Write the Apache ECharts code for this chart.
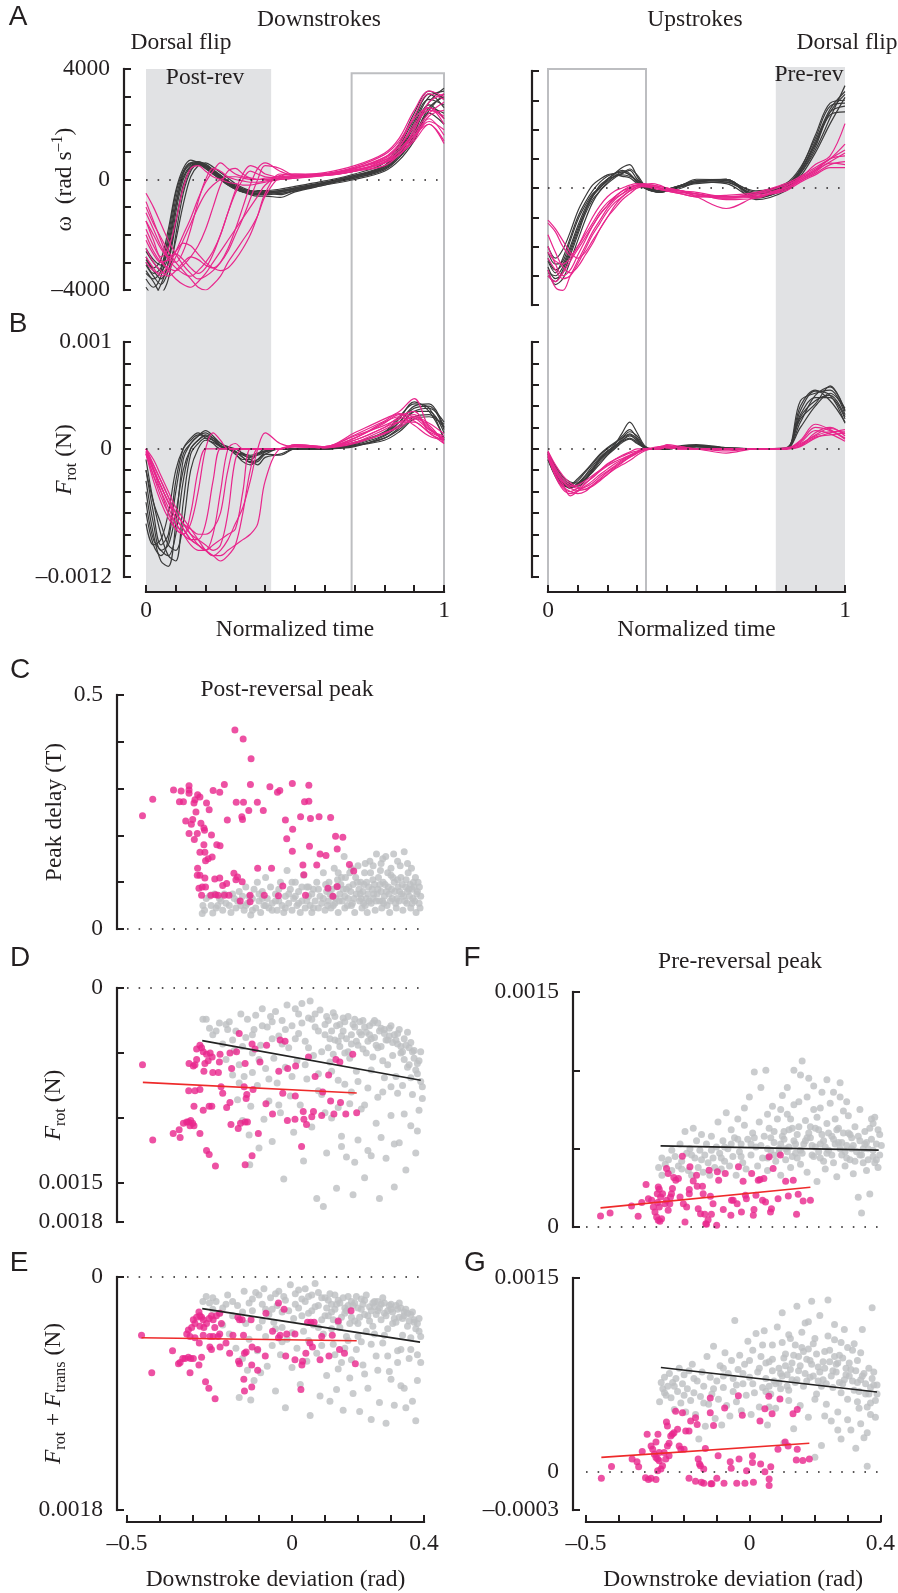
<!DOCTYPE html>
<html><head><meta charset="utf-8">
<script src="https://cdn.jsdelivr.net/npm/echarts@6/dist/echarts.min.js"></script>
<style>html,body{margin:0;padding:0;background:#fff}#c{width:898px;height:1593px}</style>
</head><body><div id="c"></div>
<script>
// ---------------- DATA ----------------
// normalized time samples of the stroke traces
const timeGrid = [0,0.025,0.05,0.075,0.1,0.125,0.15,0.175,0.2,0.225,0.25,0.275,0.3,0.325,0.35,0.375,0.4,0.45,0.5,0.6,0.7,0.8,0.85,0.9,0.95,1];

// A: angular velocity omega (rad/s), downstrokes
const omegaDownBlack = [
[-3000,-3400,-3200,-2000,-500,300,600,550,400,200,0,-200,-350,-450,-500,-500,-450,-400,-300,-100,150,450,1100,2000,3000,3200],
[-3600,-3900,-3500,-2400,-900,100,500,600,450,250,50,-150,-300,-400,-450,-500,-500,-450,-350,-150,100,400,900,1800,2800,3300],
[-2600,-3000,-3300,-2800,-1500,-300,400,650,550,350,150,-50,-250,-400,-500,-550,-550,-500,-400,-150,50,350,800,1600,2600,3000],
[-3300,-3700,-4100,-3600,-2000,-500,300,550,500,300,100,-100,-300,-450,-550,-600,-600,-650,-450,-200,100,500,1200,2200,3100,2600],
[-2800,-3200,-2900,-1800,-400,400,700,600,400,200,0,-200,-350,-450,-450,-400,-400,-350,-250,-50,200,600,1300,2400,3200,2900],
[-3900,-4200,-3800,-3000,-1200,0,450,550,450,250,50,-150,-300,-400,-500,-550,-500,-450,-350,-100,150,500,1000,1900,2700,2200],
[-3100,-3500,-3800,-3300,-2200,-900,100,500,600,450,250,50,-150,-300,-400,-450,-450,-400,-300,-100,100,400,800,1500,2500,3100],
[-2500,-2900,-3100,-2500,-1000,200,550,600,500,300,100,-100,-250,-350,-400,-450,-450,-500,-400,-200,0,300,700,1400,2400,2000],
[-3400,-3600,-3300,-2200,-700,250,600,650,500,300,100,-100,-300,-450,-500,-550,-500,-450,-350,-150,100,450,1000,2100,2900,2700],
[-2900,-3300,-3600,-3000,-1600,-200,400,600,550,350,150,-50,-200,-350,-450,-500,-500,-550,-400,-150,50,400,900,1700,2600,2400]];
const omegaDownPink = [
[-1500,-2200,-2800,-2500,-1500,-300,400,500,300,100,0,-100,-150,-200,-200,-150,-100,0,50,150,300,700,1100,1700,2400,2800],
[-800,-1500,-2200,-2800,-3000,-2600,-1800,-800,0,400,300,100,0,-50,-100,-100,-50,0,50,150,400,800,1200,2000,2600,2200],
[-2000,-2600,-3000,-3200,-3300,-3100,-2800,-2400,-1800,-1000,-200,300,400,200,50,0,0,50,100,200,400,700,1000,1600,2200,1600],
[-1200,-1800,-2400,-2900,-3200,-3400,-3500,-3300,-3000,-2600,-2000,-1200,-400,200,500,400,200,100,100,200,350,600,900,1400,2000,1300],
[-2500,-3000,-3300,-3500,-3300,-3000,-2800,-2900,-3100,-3200,-3000,-2600,-2000,-1400,-700,0,500,400,150,200,300,650,1000,1800,2800,3100],
[-500,-1000,-1600,-2200,-2700,-3100,-3400,-3600,-3500,-3300,-3000,-2500,-1800,-1000,-200,400,600,300,150,200,400,800,1300,2200,2600,2000],
[-1800,-2400,-2900,-3300,-3600,-3800,-3900,-3700,-3400,-3000,-2600,-2200,-1800,-1400,-1000,-600,-200,150,200,200,350,600,900,1500,2300,2500],
[-3000,-3300,-3400,-3100,-2600,-2000,-1400,-700,-100,300,600,400,200,100,50,0,0,50,100,200,450,900,1400,2300,3100,2900],
[-1000,-1600,-2100,-2600,-3000,-3300,-3600,-3900,-4000,-3800,-3500,-3000,-2600,-2200,-1800,-1300,-600,100,200,150,300,500,900,1500,2100,1800],
[-2200,-2700,-3000,-2900,-2700,-2900,-3200,-3400,-3200,-2700,-2000,-1200,-500,0,300,200,100,50,100,200,400,750,1200,1900,2500,2300],
[-1500,-2000,-2500,-2800,-2600,-2300,-2400,-2700,-3000,-3200,-3300,-3200,-2900,-2500,-2000,-1300,-500,200,150,150,300,600,1000,1600,2000,1400],
[-2800,-3200,-3500,-3300,-2800,-2200,-1600,-1000,-500,-200,0,100,100,50,0,0,50,100,150,250,500,950,1500,2500,3200,3000]];

// A: omega (rad/s), upstrokes
const omegaUpBlack = [
[-2500,-2900,-2400,-1700,-1000,-500,-100,200,400,500,600,500,200,0,-100,-100,-50,100,250,200,-200,100,600,1500,2600,3200],
[-3000,-3200,-2800,-2200,-1500,-800,-300,100,300,500,700,800,400,50,-100,-150,-100,50,200,300,-300,0,500,1300,2400,3500],
[-2200,-2600,-2500,-1800,-1100,-600,-200,0,300,400,450,400,250,0,-50,-100,-50,100,300,250,-100,150,700,1700,2800,2900],
[-2700,-3100,-2900,-2300,-1600,-900,-400,-100,200,400,500,600,300,100,0,-100,-100,0,200,300,-400,-100,400,1200,2200,3100],
[-2000,-2400,-2100,-1500,-800,-300,100,300,450,500,550,450,200,0,-100,-150,-100,50,150,200,-200,50,600,1600,2700,3300],
[-2800,-3300,-3100,-2500,-1800,-1100,-500,-100,150,350,500,650,450,100,-50,-150,-100,100,250,300,-300,-50,500,1400,2500,2600],
[-2400,-2800,-2600,-2000,-1300,-700,-250,50,300,450,400,350,150,0,-100,-100,-50,50,200,250,-150,100,650,1800,2900,3000],
[-2900,-3000,-2700,-2100,-1400,-800,-300,0,250,400,550,450,250,50,-50,-100,-50,100,200,150,-350,0,550,1500,2600,2800]];
const omegaUpPink = [
[-1200,-1500,-2000,-2300,-2000,-1500,-1000,-600,-300,-100,0,100,150,100,0,-50,-100,-200,-300,-300,-300,0,300,600,900,1200],
[-2000,-2600,-3000,-2800,-2300,-1800,-1300,-900,-600,-300,-100,50,100,50,0,-50,-100,-150,-250,-350,-200,100,350,650,1000,1500],
[-2800,-3400,-3500,-3000,-2500,-2000,-1500,-1100,-700,-400,-200,0,100,100,50,0,-50,-100,-200,-300,-250,0,250,500,800,900],
[-1600,-2200,-2700,-2900,-2700,-2300,-1900,-1400,-1000,-700,-400,-200,0,100,150,100,0,-100,-300,-700,-300,-100,200,450,700,700],
[-2400,-2800,-3100,-3000,-2600,-2100,-1600,-1200,-800,-500,-300,-100,0,50,50,0,-50,-150,-200,-400,-350,50,350,800,1100,2200],
[-1100,-1400,-1800,-2200,-2400,-2200,-1800,-1400,-1000,-600,-300,-100,50,100,50,0,-100,-200,-300,-250,-150,150,400,700,1000,1300],
[-3000,-3200,-2900,-2500,-2100,-1700,-1300,-900,-600,-350,-200,-50,50,100,100,50,0,-100,-150,-300,-200,0,300,600,1000,1100],
[-2200,-2500,-2600,-2400,-2000,-1600,-1200,-800,-500,-300,-100,0,100,150,100,50,0,-100,-200,-350,-300,-50,250,550,850,800]];

// B: rotational force F_rot in units of 1e-4 N, downstrokes
const frotDownBlack = [
[-2,-6,-9,-8,-3,0,1,1.5,1,0.5,0,0,-0.5,-1,-1,-0.5,0,0,0,0,0.3,1,2,3.5,3.5,1.5],
[-4,-8,-10.5,-11,-7,-1,0.5,1.2,1.5,1,0.3,0,-0.3,-0.8,-1.2,-1,-0.3,0,0,0,0.5,1.5,2.5,4,4.2,2],
[-1,-5,-8,-10,-10.5,-5,-0.5,0.5,1,0.8,0.3,0,0,-0.5,-1,-1.5,-0.8,-0.5,0,0,0.2,1.2,2.2,3.5,3.8,2.5],
[-6,-9,-10,-8.5,-4,-0.5,0.5,1.2,1.7,1.2,0.5,0.1,-0.3,-0.6,-0.8,-0.5,-0.2,0,0,0,0.5,1.5,2.8,4.4,3.5,1],
[-3,-7,-9.5,-9,-6,-2,0,0.8,1.2,0.8,0.2,0,-0.5,-1.2,-1.5,-1,-0.5,-0.6,0,0,0.3,1,1.8,3,3.2,2],
[-5,-8.5,-9.5,-10,-8,-3,0,0.8,1.3,1,0.5,0.2,0,-0.4,-0.7,-0.6,-0.3,0,0,0,0.4,1.3,2.5,3.8,4,1.8],
[-2,-5,-7,-9,-9.5,-7,-2,0,0.8,0.6,0.2,0,-0.2,-0.8,-1.3,-1.2,-0.5,0,0,0,0.3,0.8,1.6,2.8,3,2.3],
[-7,-9,-8.5,-6,-2,0,0.8,1.3,1.2,0.8,0.3,0,-0.3,-0.5,-0.6,-0.4,-0.2,0,0,0,0.6,1.6,3,4.2,3.8,0.8]];
const frotDownPink = [
[0,-2,-4,-6,-7.5,-8,-6,-2,0,0,0,0,0,0,0,0,0,0,0.3,0.2,0.8,2,2.5,2.5,1.5,0.5],
[-0.5,-2.5,-4.5,-6,-7,-8,-8.5,-8.5,-7,-3,0,0,0,0,0,0,0,0,0.2,0.1,1,2.5,3,2.2,1.2,0.8],
[0,-1.5,-3,-4.5,-6,-7,-8,-8.5,-9,-9.5,-9,-6,-1,0,0,0,0,0,0.4,0.2,1.5,2.8,3.5,4.7,2,1],
[-0.3,-2,-3.5,-5,-6.5,-7.5,-8.5,-9,-9.5,-10,-10.5,-10,-9,-6,-2,0,0,0,0.3,0.2,0.6,1.8,2.5,3,2,0.7],
[0,-1,-2.5,-4,-5.5,-6.5,-7.5,-8.5,-9.5,-10,-9.5,-8.5,-7,-5.5,-3,0,1.5,0.5,0.2,0.2,1.2,2.2,2.8,3.2,1.8,1.2],
[-0.5,-3,-5,-6.5,-7.5,-8,-7,-4,0,1.5,0.8,0,0,0,0,0,0,0,0.3,0.1,0.5,1.5,2,2.8,2.2,0.5],
[0,-1.5,-3,-4.5,-6,-7,-8,-9,-9.5,-10,-10,-9.5,-9,-8.5,-8,-7,-3,0,0.2,0.1,0.8,2,3,3.5,1.5,0.8],
[-0.2,-2,-3.5,-5,-6,-7,-7.5,-8,-8,-7.5,-6,-2,0,0,0,0,0,0,0.4,0.2,1,2.4,3.2,2.6,1.6,1],
[0,-1.8,-3.5,-5,-6.5,-7.5,-8.5,-9,-9.5,-9,-8.5,-8,-7.5,-4,0,0,0,0,0.2,0.1,0.6,1.4,2.2,3,2.4,1.4],
[-0.4,-2.5,-4,-5.5,-7,-8,-9,-9.5,-9.5,-8,-4,0,0.5,0,0,0,0,0,0.3,0.2,1.3,2.6,3.3,2.9,1.8,0.9]];

// B: F_rot (1e-4 N), upstrokes
const frotUpBlack = [
[-0.5,-2,-3,-3.4,-3,-2.2,-1.4,-0.6,0,0.5,1.2,1.8,1,0.2,0,0,0,0.2,0.3,0,0,0,3,4.5,5,3],
[-1,-2.5,-3.4,-3.6,-3.2,-2.5,-1.6,-0.8,-0.2,0.3,0.8,1.2,0.8,0.1,0,0,0,0.1,0.2,0.1,0,0,2.5,5,5.8,3.5],
[-0.3,-1.8,-2.8,-3.3,-3.5,-3,-2,-1,-0.3,0.4,1.5,2.5,1.5,0.3,0,0,0,0.2,0.3,0.1,0,0,4,5.5,4.5,2.5],
[-0.8,-2.2,-3.2,-3.7,-3.3,-2.6,-1.8,-0.9,-0.2,0.2,0.7,1,0.6,0.1,0,0,0,0.1,0.2,0,0,0,2,4,5.2,3.8],
[-0.5,-2,-3,-3.5,-3.4,-2.8,-1.9,-1,-0.4,0.2,1,1.6,1.2,0.2,0,0,0,0.3,0.4,0.1,0,0,3.2,4.8,4.8,2.8],
[-1,-2.6,-3.5,-3.4,-2.8,-2.1,-1.3,-0.5,0.1,0.6,1,1.4,0.9,0.2,0,0,0,0.1,0.2,0,0,0,4.5,5.2,5.5,3.2],
[-0.4,-1.6,-2.6,-3.1,-3.2,-2.8,-2.2,-1.4,-0.6,0,0.6,0.9,0.5,0.1,0,0,0,0.2,0.3,0.1,0,0.1,2.8,4.2,5.9,3.6],
[-0.7,-2.3,-3.3,-3.6,-3.4,-2.9,-2.1,-1.2,-0.5,0.1,0.8,1.3,0.7,0.1,0,0,0,0.1,0.2,0,0,0,3.6,5.4,5,2.4]];
const frotUpPink = [
[-0.3,-2,-3,-3.5,-3.4,-3,-2.5,-2,-1.5,-1,-0.6,-0.3,0,0,0,0.2,0.3,0,0,0,0,0,0.3,1.5,2,1.2],
[-0.8,-2.5,-3.5,-4,-4.2,-4,-3.4,-2.8,-2.2,-1.7,-1.2,-0.8,-0.4,-0.1,0,0.1,0.2,0.1,0,-0.4,0,0,0.5,1.2,1.6,1.6],
[-0.5,-2.2,-3.3,-4.4,-4,-3.5,-3,-2.4,-1.9,-1.4,-1,-0.6,-0.3,0,0,0,0.4,0.2,0,0,0,0,0.8,2.3,1.8,0.9],
[-0.2,-1.5,-2.5,-3.2,-3.6,-3.8,-3.5,-3,-2.4,-1.8,-1.3,-0.8,-0.4,-0.1,0,0,0.1,0,0,0,0,0.1,0.4,1.3,1.9,1.4],
[-0.6,-2.4,-3.6,-4,-3.7,-3.2,-2.7,-2.1,-1.6,-1.2,-0.9,-0.6,-0.3,0,0,0.1,0.2,0.1,0,-0.2,0,0,0.6,1.7,1.4,0.7],
[-0.4,-1.8,-2.8,-3.4,-3.7,-3.6,-3.2,-2.6,-2.1,-1.6,-1.1,-0.7,-0.3,0,0,0,0.1,0,0,0,0,0,0.2,1,1.5,1.8],
[-0.7,-2.6,-3.8,-4.2,-3.9,-3.3,-2.6,-2,-1.4,-1,-0.7,-0.4,-0.2,0,0.1,0.2,0.3,0.1,0,0,0,0,0.7,2,1.7,1],
[-0.3,-2,-3.1,-3.7,-3.9,-3.8,-3.4,-2.9,-2.4,-1.9,-1.5,-1.1,-0.6,-0.2,0,0,0.1,0,0,0,0,0,0.3,1.1,1.3,1.5]];

// shaded / boxed time windows (normalized time)
const postRevWindow = [0, 0.42];
const downBoxWindow = [0.69, 1];
const preRevWindow = [0.767, 1];
const upBoxWindow = [0, 0.33];

// C: peak delay (T) vs downstroke deviation (rad)
const delayGrey = [[-0.272,0.033],[-0.27,0.05],[-0.26,0.065],[-0.245,0.05],[-0.24,0.034],[-0.235,0.075],[-0.225,0.05],[-0.215,0.06],[-0.21,0.04],[-0.205,0.075],[-0.19,0.05],[-0.185,0.035],[-0.175,0.065],[-0.17,0.045],[-0.16,0.08],[-0.155,0.05],[-0.15,0.07],[-0.145,0.04],[-0.14,0.09],[-0.135,0.055],[-0.125,0.03],[-0.12,0.065],[-0.115,0.085],[-0.11,0.045],[-0.105,0.1],[-0.1,0.06],[-0.095,0.035],[-0.09,0.08],[-0.085,0.05],[-0.08,0.11],[-0.075,0.065],[-0.07,0.045],[-0.065,0.09],[-0.06,0.055],[-0.05,0.075],[-0.045,0.04],[-0.04,0.06],[-0.035,0.1],[-0.03,0.05],[-0.025,0.035],[-0.02,0.07],[-0.015,0.125],[-0.01,0.055],[-0.005,0.085],[0,0.04],[0.005,0.065],[0.01,0.1],[0.015,0.05],[0.02,0.08],[0.025,0.035],[0.03,0.06],[0.035,0.115],[0.04,0.045],[0.045,0.09],[0.05,0.07],[0.055,0.05],[0.06,0.035],[0.065,0.085],[0.07,0.06],[0.075,0.1],[0.08,0.045],[0.085,0.07],[0.09,0.055],[0.095,0.12],[0.1,0.04],[0.105,0.08],[0.11,0.06],[0.112,0.1],[0.118,0.045],[0.122,0.07],[0.128,0.13],[0.13,0.055],[0.135,0.09],[0.14,0.035],[0.145,0.075],[0.15,0.11],[0.152,0.06],[0.158,0.155],[0.16,0.045],[0.165,0.085],[0.17,0.065],[0.175,0.12],[0.18,0.05],[0.185,0.095],[0.19,0.035],[0.195,0.075],[0.2,0.135],[0.205,0.06],[0.208,0.1],[0.212,0.045],[0.215,0.08],[0.22,0.12],[0.225,0.065],[0.228,0.035],[0.232,0.09],[0.236,0.145],[0.24,0.055],[0.245,0.105],[0.248,0.075],[0.252,0.04],[0.256,0.16],[0.26,0.085],[0.265,0.06],[0.268,0.125],[0.272,0.045],[0.276,0.1],[0.28,0.07],[0.284,0.155],[0.288,0.05],[0.292,0.09],[0.296,0.035],[0.3,0.115],[0.304,0.065],[0.308,0.16],[0.312,0.08],[0.316,0.045],[0.32,0.105],[0.324,0.06],[0.328,0.135],[0.332,0.075],[0.336,0.04],[0.34,0.165],[0.344,0.09],[0.348,0.055],[0.352,0.12],[0.356,0.07],[0.36,0.045],[0.364,0.085],[0.368,0.1],[0.372,0.06],[0.376,0.035],[0.38,0.08],[0.385,0.055],[0.39,0.07],[0.102,0.095],[0.115,0.075],[0.125,0.05],[0.138,0.105],[0.143,0.06],[0.155,0.085],[0.162,0.11],[0.168,0.05],[0.178,0.08],[0.188,0.065],[0.198,0.1],[0.203,0.085],[0.21,0.065],[0.218,0.095],[0.222,0.05],[0.23,0.075],[0.238,0.12],[0.243,0.085],[0.25,0.095],[0.255,0.06],[0.262,0.11],[0.27,0.08],[0.274,0.06],[0.282,0.095],[0.29,0.12],[0.294,0.075],[0.302,0.085],[0.31,0.1],[0.318,0.065],[0.322,0.09],[0.33,0.11],[0.338,0.07],[0.346,0.105],[0.35,0.08],[0.358,0.095],[0.362,0.13],[0.366,0.065],[0.374,0.11],[0.378,0.075],[0.386,0.09],[0.05,0.09],[0.06,0.075],[0.02,0.055],[-0.01,0.075],[-0.05,0.06],[-0.09,0.065],[-0.13,0.07],[-0.18,0.075],[-0.22,0.065],[0,0.1],
[-0.265,0.04],[-0.25,0.07],[-0.23,0.045],[-0.2,0.055],[-0.165,0.06],[-0.14,0.05],[-0.12,0.04],[-0.1,0.075],[-0.08,0.05],[-0.06,0.04],[-0.04,0.085],[-0.02,0.045],[0.01,0.07],[0.03,0.09],[0.045,0.06],[0.065,0.045],[0.08,0.085],[0.095,0.065],[0.108,0.05],[0.12,0.085],[0.133,0.065],[0.148,0.095],[0.16,0.07],[0.172,0.09],[0.183,0.055],[0.193,0.11],[0.207,0.075],[0.217,0.055],[0.226,0.1],[0.234,0.06],[0.246,0.065],[0.258,0.075],[0.266,0.095],[0.278,0.055],[0.286,0.08],[0.298,0.06],[0.306,0.11],[0.314,0.055],[0.326,0.08],[0.334,0.095],[0.342,0.06],[0.354,0.085],[0.364,0.055],[0.37,0.09],[0.382,0.1],[0.388,0.045],[0.246,0.135],[0.27,0.14],[0.3,0.13],[0.32,0.145],[0.35,0.14],[0.222,0.14],[0.18,0.13],[0.14,0.12],[0.275,0.15]];
const delayPink = [[-0.453,0.242],[-0.422,0.277],[-0.359,0.297],[-0.336,0.295],[-0.341,0.272],[-0.329,0.272],[-0.312,0.306],[-0.312,0.297],[-0.312,0.29],[-0.322,0.231],[-0.305,0.224],[-0.312,0.204],[-0.287,0.204],[-0.297,0.269],[-0.294,0.276],[-0.286,0.287],[-0.279,0.282],[-0.291,0.25],[-0.301,0.234],[-0.296,0.191],[-0.276,0.226],[-0.267,0.216],[-0.265,0.211],[-0.259,0.269],[-0.251,0.255],[-0.244,0.201],[-0.267,0.18],[-0.264,0.164],[-0.279,0.164],[-0.262,0.146],[-0.254,0.15],[-0.242,0.154],[-0.286,0.13],[-0.287,0.115],[-0.279,0.115],[-0.282,0.087],[-0.272,0.09],[-0.262,0.09],[-0.274,0.072],[-0.264,0.109],[-0.234,0.107],[-0.219,0.109],[-0.246,0.072],[-0.232,0.073],[-0.224,0.072],[-0.239,0.296],[-0.219,0.292],[-0.205,0.309],[-0.228,0.18],[-0.218,0.178],[-0.205,0.072],[-0.191,0.072],[-0.21,0.093],[-0.198,0.097],[-0.196,0.233],[-0.17,0.105],[-0.176,0.119],[-0.165,0.111],[-0.151,0.101],[-0.173,0.425],[-0.148,0.406],[-0.124,0.364],[-0.169,0.271],[-0.147,0.271],[-0.152,0.24],[-0.15,0.234],[-0.131,0.253],[-0.126,0.309],[-0.105,0.271],[-0.087,0.253],[-0.067,0.304],[-0.044,0.292],[-0.037,0.296],[-0.02,0.233],[-0.016,0.193],[0.001,0.311],[0.002,0.213],[0.001,0.166],[0.026,0.24],[0.051,0.307],[0.038,0.272],[0.051,0.273],[0.056,0.236],[0.053,0.177],[0.082,0.24],[0.117,0.238],[0.085,0.16],[0.103,0.157],[0.132,0.198],[0.154,0.196],[0.137,0.171],[0.174,0.138],[0.187,0.124],[0.033,0.137],[0.075,0.137],[0.036,0.116],[-0.104,0.13],[-0.062,0.13],[-0.028,0.092],[0.041,0.072],[0.109,0.087],[0.137,0.091],[0.124,0.07],[-0.127,0.072],[-0.127,0.058],[-0.084,0.072],[-0.041,0.071],[-0.157,0.06]];

// D: post-reversal F_rot peak (1e-4 N, axis inverted)
const frotPostGrey = [[-0.27,2.4],[-0.26,2.4],[-0.25,3.1],[-0.24,3.6],[-0.22,2.7],[-0.21,4.3],[-0.2,5.5],[-0.195,3.2],[-0.19,2.6],[-0.18,6.7],[-0.175,4.8],[-0.17,3.3],[-0.165,8.6],[-0.16,5.9],[-0.155,2.0],[-0.15,10.2],[-0.145,6.8],[-0.14,3.8],[-0.135,2.4],[-0.13,11.3],[-0.128,13.6],[-0.125,9.1],[-0.12,5.0],[-0.115,3.2],[-0.11,2.1],[-0.105,7.5],[-0.1,12.3],[-0.095,4.4],[-0.09,1.6],[-0.085,10.1],[-0.08,6.2],[-0.075,3.0],[-0.07,8.7],[-0.065,2.2],[-0.06,11.8],[-0.055,5.4],[-0.05,1.8],[-0.045,7.3],[-0.04,3.7],[-0.035,9.6],[-0.03,2.5],[-0.025,14.7],[-0.02,6.1],[-0.015,1.3],[-0.01,4.6],[-0.005,8.3],[0,2.9],[0.005,11.1],[0.01,1.6],[0.015,5.6],[0.02,3.5],[0.025,9.0],[0.03,1.2],[0.035,13.3],[0.04,4.1],[0.045,7.0],[0.05,2.3],[0.055,1.0],[0.06,10.7],[0.065,5.2],[0.07,3.0],[0.075,16.2],[0.08,6.6],[0.085,1.7],[0.09,8.2],[0.095,16.8],[0.1,3.6],[0.105,12.7],[0.11,2.5],[0.115,5.7],[0.12,10.0],[0.125,1.9],[0.13,4.0],[0.135,15.4],[0.14,7.1],[0.145,2.8],[0.15,11.4],[0.155,3.3],[0.16,5.0],[0.165,13.0],[0.17,2.2],[0.175,8.9],[0.18,4.3],[0.185,15.9],[0.19,3.0],[0.195,6.4],[0.2,11.7],[0.205,2.6],[0.21,9.3],[0.215,4.7],[0.22,14.6],[0.225,3.4],[0.23,7.7],[0.235,2.9],[0.24,12.9],[0.245,5.3],[0.25,3.8],[0.255,10.4],[0.26,2.7],[0.265,16.2],[0.27,4.5],[0.275,8.0],[0.28,3.2],[0.285,13.1],[0.29,5.9],[0.295,3.7],[0.3,9.8],[0.305,4.2],[0.31,15.3],[0.315,6.8],[0.32,3.5],[0.325,11.9],[0.33,5.0],[0.335,7.5],[0.34,3.9],[0.345,14.0],[0.35,6.1],[0.355,4.6],[0.36,10.6],[0.365,8.2],[0.37,5.4],[0.375,12.7],[0.38,6.6],[0.385,9.4],[0.39,7.2],[0.395,8.5],[0.1,2.8],[0.12,3.3],[0.14,4.1],[0.16,2.6],[0.18,3.6],[0.2,4.4],[0.22,3.0],[0.24,3.9],[0.26,4.6],[0.28,3.5],[0.3,2.9],[0.32,4.3],[0.34,5.5],[0.36,4.2],[0.38,5.8],[0.11,4.6],[0.13,2.2],[0.15,3.7],[0.17,4.9],[0.19,2.4],[0.21,3.6],[0.23,4.1],[0.25,2.5],[0.27,3.1],[0.29,4.0],[0.31,3.6],[0.33,4.5],[0.35,3.4],[0.37,4.8],[0.06,2.4],[0.08,3.3],[0.02,2.0],[-0.02,3.2],[-0.06,3.9],[0.04,5.9],[0,6.8],[-0.1,5.5],[0.24,6.3],[0.28,6.9],[0.2,7.2],[0.32,8.1],[0.36,6.9],[0.12,6.4],[0.16,7.4],[0.08,7.9],[-0.04,9.0],
[-0.23,3.3],[-0.2,2.8],[-0.18,4.0],[-0.15,4.5],[-0.12,3.6],[-0.09,2.9],[-0.06,2.6],[-0.03,4.3],[0.01,3.9],[0.03,2.7],[0.05,4.6],[0.07,2.0],[0.09,4.9],[0.105,2.2],[0.115,3.9],[0.125,5.1],[0.135,2.9],[0.145,4.5],[0.155,2.3],[0.165,3.9],[0.175,5.4],[0.185,2.8],[0.195,4.1],[0.205,3.4],[0.215,2.5],[0.225,5.0],[0.235,3.6],[0.245,2.7],[0.255,4.4],[0.265,3.3],[0.275,5.6],[0.285,4.0],[0.295,3.1],[0.305,5.2],[0.315,4.0],[0.325,3.2],[0.335,4.9],[0.345,4.4],[0.355,5.9],[0.365,4.9],[0.375,6.3],[0.385,5.6],[0.39,4.9],[0.395,7.6],[0.3,7.6],[0.26,8.4],[0.22,9.0],[0.18,8.0],[0.14,9.2],[0.1,9.6],[0.34,9.7],[0.38,11.0],[0.31,12.0],[0.27,11.5],[0.23,12.5],[0.19,13.4],[0.15,12.2],[-0.07,7.0],[-0.12,6.5],[-0.16,7.3]];
const frotPostPink = [[-0.453,5.9],[-0.422,11.7],[-0.36,11.2],[-0.342,10.9],[-0.339,11.5],[-0.329,10.4],[-0.319,10.3],[-0.314,10.3],[-0.307,10.2],[-0.309,10.6],[-0.301,10.4],[-0.297,10.6],[-0.313,7.9],[-0.312,5.8],[-0.299,6.0],[-0.294,5.9],[-0.289,5.5],[-0.294,7.9],[-0.279,7.8],[-0.297,9.1],[-0.279,11.2],[-0.289,4.7],[-0.279,4.4],[-0.274,4.6],[-0.269,4.9],[-0.267,6.4],[-0.264,5.8],[-0.259,5.1],[-0.254,5.6],[-0.248,5.0],[-0.242,5.3],[-0.269,9.4],[-0.251,9.1],[-0.243,9.1],[-0.259,12.5],[-0.251,12.8],[-0.24,6.5],[-0.223,6.5],[-0.218,5.1],[-0.22,5.7],[-0.232,13.7],[-0.215,7.6],[-0.21,8.1],[-0.198,9.2],[-0.188,8.8],[-0.188,5.0],[-0.183,6.2],[-0.168,4.9],[-0.16,3.5],[-0.185,10.5],[-0.163,10.8],[-0.156,10.4],[-0.142,10.3],[-0.135,10.3],[-0.142,5.8],[-0.145,7.6],[-0.142,13.6],[-0.121,12.9],[-0.137,8.2],[-0.139,8.5],[-0.118,7.8],[-0.121,4.3],[-0.112,4.7],[-0.097,5.7],[-0.102,11.2],[-0.077,4.4],[-0.079,8.9],[-0.059,9.7],[-0.036,4.0],[-0.021,4.1],[-0.04,6.4],[-0.013,6.2],[-0.028,8.1],[-0.014,10.2],[0.009,10.1],[0.011,6.0],[0.01,8.3],[0.029,12.2],[0.034,9.5],[0.036,10.1],[0.044,10.5],[0.06,9.9],[0.065,9.5],[0.05,5.3],[0.07,6.8],[0.09,9.8],[0.093,8.0],[0.111,6.7],[0.117,8.7],[0.127,9.7],[0.133,5.5],[0.145,5.7],[0.147,8.8],[0.163,9.7],[0.184,5.1],[0.196,9.6]];
const fitPostRotGrey = [[-0.272,4.05],[0.39,7.1]];
const fitPostRotPink = [[-0.452,7.26],[0.196,8.08]];

// E: post-reversal F_rot + F_trans (1e-4 N, axis inverted)
const totPostGrey = [[-0.27,1.9],[-0.26,1.5],[-0.25,2.0],[-0.24,2.5],[-0.23,1.9],[-0.22,2.8],[-0.21,3.7],[-0.2,2.1],[-0.195,1.4],[-0.19,4.4],[-0.18,3.0],[-0.17,5.5],[-0.165,2.2],[-0.16,9.3],[-0.15,6.3],[-0.145,1.1],[-0.14,3.6],[-0.135,7.2],[-0.13,4.8],[-0.125,9.5],[-0.12,2.6],[-0.115,8.0],[-0.11,1.2],[-0.105,5.7],[-0.1,3.9],[-0.095,7.4],[-0.09,2.1],[-0.085,0.9],[-0.08,4.6],[-0.075,6.9],[-0.07,2.9],[-0.065,1.6],[-0.06,5.3],[-0.055,3.5],[-0.05,8.8],[-0.045,2.2],[-0.04,1.1],[-0.035,6.0],[-0.03,3.9],[-0.025,1.5],[-0.02,10.1],[-0.015,4.8],[-0.01,2.6],[-0.005,0.6],[0,7.0],[0.005,3.2],[0.01,1.3],[0.015,5.5],[0.02,2.4],[0.025,8.3],[0.03,1.7],[0.035,4.2],[0.04,0.9],[0.045,6.5],[0.05,2.8],[0.055,10.7],[0.06,1.4],[0.065,3.7],[0.07,0.5],[0.075,5.9],[0.08,2.2],[0.085,9.2],[0.09,1.6],[0.095,4.4],[0.1,3.0],[0.105,7.6],[0.11,1.8],[0.115,9.6],[0.12,2.7],[0.125,5.2],[0.13,1.4],[0.135,8.7],[0.14,3.5],[0.145,2.0],[0.15,6.6],[0.155,10.3],[0.16,2.4],[0.165,4.6],[0.17,1.5],[0.175,7.8],[0.18,3.1],[0.185,9.0],[0.19,2.0],[0.195,5.6],[0.2,3.6],[0.205,10.4],[0.21,1.7],[0.215,6.8],[0.22,2.9],[0.225,4.2],[0.23,8.6],[0.235,2.3],[0.24,11.0],[0.245,3.8],[0.25,1.9],[0.255,6.1],[0.26,2.6],[0.265,9.7],[0.27,3.3],[0.275,5.1],[0.28,2.0],[0.285,11.3],[0.29,4.0],[0.295,7.3],[0.3,2.5],[0.305,3.6],[0.31,9.9],[0.315,2.2],[0.32,5.7],[0.325,3.1],[0.33,8.4],[0.335,4.5],[0.34,2.7],[0.345,10.1],[0.35,3.8],[0.355,6.3],[0.36,4.7],[0.365,9.6],[0.37,3.3],[0.375,11.1],[0.38,6.0],[0.385,4.2],[0.39,6.6],[0.1,1.6],[0.12,2.1],[0.14,1.8],[0.16,2.8],[0.18,1.9],[0.2,2.4],[0.22,1.8],[0.24,2.6],[0.26,1.9],[0.28,2.8],[0.3,2.1],[0.32,2.5],[0.34,3.0],[0.36,2.9],[0.38,3.6],[0.11,3.0],[0.13,2.5],[0.15,3.1],[0.17,2.2],[0.19,3.4],[0.21,2.5],[0.23,3.0],[0.25,2.3],[0.27,2.1],[0.29,2.6],[0.31,3.2],[0.33,2.4],[0.35,2.8],[0.37,3.5],[0.02,1.0],[0.04,1.9],[0.06,2.6],[0.08,1.2],[-0.02,1.8],[-0.06,2.5],[-0.12,1.7],[0,4.3],[0.09,5.3],[0.17,4.9],[0.25,4.4],[0.33,5.6],[0.29,6.1],[0.21,5.0],[0.13,6.0],[0.05,4.9],[-0.03,5.0],[-0.09,3.4],
[-0.24,1.6],[-0.21,2.4],[-0.18,1.9],[-0.15,2.7],[-0.13,2.0],[-0.1,1.4],[-0.08,2.5],[-0.05,1.3],[-0.03,2.7],[0.01,2.1],[0.03,3.0],[0.05,1.5],[0.07,2.3],[0.09,3.3],[0.105,2.4],[0.115,1.3],[0.125,3.3],[0.135,2.1],[0.145,3.9],[0.155,1.6],[0.165,2.6],[0.175,3.6],[0.185,2.2],[0.195,1.5],[0.205,3.1],[0.215,2.1],[0.225,1.4],[0.235,3.4],[0.245,2.0],[0.255,2.9],[0.265,2.4],[0.275,1.6],[0.285,3.0],[0.295,2.2],[0.305,2.7],[0.315,3.5],[0.325,2.0],[0.335,3.2],[0.345,2.5],[0.355,3.4],[0.365,2.7],[0.375,4.0],[0.385,3.2],[0.39,4.6],[0.28,4.5],[0.24,5.2],[0.2,4.6],[0.16,5.5],[0.12,4.0],[0.08,3.9],[0.36,5.6],[0.32,6.6],[0.3,7.9],[0.26,7.2],[0.22,7.5],[0.18,6.4],[0.14,7.1],[0.38,8.0],[0.34,8.6],[-0.05,4.0]];
const totPostPink = [[-0.456,4.5],[-0.425,7.4],[-0.362,5.7],[-0.344,6.7],[-0.339,6.6],[-0.331,6.3],[-0.324,6.3],[-0.314,6.2],[-0.307,6.3],[-0.299,6.3],[-0.309,7.4],[-0.319,4.4],[-0.314,4.1],[-0.304,3.9],[-0.294,3.6],[-0.299,3.3],[-0.289,3.1],[-0.282,2.7],[-0.279,3.0],[-0.274,3.1],[-0.269,3.3],[-0.279,3.8],[-0.267,3.9],[-0.259,3.6],[-0.251,3.2],[-0.244,3.0],[-0.239,3.3],[-0.229,3.0],[-0.219,2.8],[-0.234,3.9],[-0.214,3.6],[-0.309,4.6],[-0.294,4.7],[-0.281,5.1],[-0.269,4.5],[-0.249,4.6],[-0.239,4.6],[-0.224,4.6],[-0.219,4.4],[-0.282,6.8],[-0.274,6.2],[-0.249,5.4],[-0.244,5.6],[-0.262,8.1],[-0.252,8.6],[-0.233,9.4],[-0.218,5.4],[-0.2,5.1],[-0.179,4.5],[-0.189,5.9],[-0.164,3.1],[-0.159,3.3],[-0.151,3.3],[-0.147,4.5],[-0.162,6.5],[-0.159,6.7],[-0.144,5.9],[-0.139,5.8],[-0.146,7.9],[-0.144,8.8],[-0.122,8.5],[-0.124,3.3],[-0.121,5.4],[-0.122,6.8],[-0.104,7.2],[-0.104,5.6],[-0.079,2.8],[-0.081,6.1],[-0.059,4.2],[-0.041,4.7],[-0.036,4.5],[-0.041,2.0],[-0.024,2.5],[-0.019,6.1],[-0.016,4.4],[0.009,4.4],[0.009,6.4],[0.027,8.7],[0.032,6.5],[0.03,6.8],[0.042,5.9],[0.047,3.5],[0.057,3.5],[0.054,5.1],[0.062,5.4],[0.067,3.5],[0.085,6.4],[0.09,4.6],[0.112,6.1],[0.122,4.5],[0.14,3.4],[0.144,5.6],[0.159,5.9],[0.179,2.6],[0.192,6.7]];
const fitPostTotGrey = [[-0.272,2.44],[0.388,5.03]];
const fitPostTotPink = [[-0.456,4.69],[0.196,4.92]];

// F: pre-reversal F_rot peak (1e-4 N)
const frotPreGrey = [[-0.28,3.8],[-0.27,3.3],[-0.26,4.0],[-0.25,4.3],[-0.24,3.6],[-0.23,4.5],[-0.22,3.9],[-0.215,5.3],[-0.21,4.2],[-0.2,6.1],[-0.195,4.7],[-0.19,3.6],[-0.185,5.0],[-0.18,3.3],[-0.175,6.3],[-0.17,4.4],[-0.165,5.5],[-0.16,3.8],[-0.155,4.9],[-0.15,5.9],[-0.145,3.5],[-0.14,4.6],[-0.135,5.3],[-0.13,4.1],[-0.125,3.3],[-0.12,5.8],[-0.115,4.4],[-0.11,3.8],[-0.105,5.1],[-0.1,6.7],[-0.095,4.7],[-0.09,3.7],[-0.085,5.5],[-0.08,4.2],[-0.075,7.3],[-0.07,5.0],[-0.065,3.9],[-0.06,6.2],[-0.055,4.5],[-0.05,5.7],[-0.045,3.3],[-0.04,6.9],[-0.035,4.8],[-0.03,5.3],[-0.025,4.1],[-0.02,6.5],[-0.015,3.7],[-0.01,5.6],[-0.005,8.3],[0,4.6],[0.005,6.0],[0.01,9.9],[0.015,5.1],[0.02,3.9],[0.025,6.7],[0.03,8.9],[0.035,4.4],[0.04,5.8],[0.045,10.0],[0.05,3.6],[0.055,6.3],[0.06,4.9],[0.065,7.7],[0.07,5.4],[0.075,4.2],[0.08,6.9],[0.085,5.0],[0.09,3.3],[0.095,8.4],[0.1,5.6],[0.105,4.3],[0.11,7.2],[0.115,5.1],[0.12,3.8],[0.125,6.3],[0.13,10.0],[0.135,4.7],[0.14,5.9],[0.145,8.0],[0.15,4.0],[0.155,10.6],[0.16,5.3],[0.165,6.8],[0.17,3.5],[0.175,9.5],[0.18,5.7],[0.185,4.6],[0.19,7.5],[0.195,5.1],[0.2,2.9],[0.205,6.2],[0.21,4.4],[0.215,8.6],[0.22,5.5],[0.225,3.7],[0.23,6.6],[0.235,4.9],[0.24,7.9],[0.245,5.8],[0.25,4.1],[0.255,6.9],[0.26,3.2],[0.265,5.4],[0.27,8.3],[0.275,4.6],[0.28,6.0],[0.285,3.9],[0.29,5.2],[0.295,7.1],[0.3,4.3],[0.305,5.7],[0.31,3.4],[0.315,6.4],[0.32,4.8],[0.325,1.9],[0.33,5.5],[0.335,0.9],[0.34,4.1],[0.345,6.1],[0.35,3.6],[0.355,5.0],[0.36,2.1],[0.365,6.9],[0.37,4.5],[0.375,7.0],[0.38,5.3],[0.385,3.8],[0.39,5.9],[0.395,5.2],[0.05,5.0],[0.07,4.6],[0.09,5.3],[0.11,4.8],[0.13,5.5],[0.15,4.9],[0.17,5.7],[0.19,4.5],[0.21,5.3],[0.23,4.7],[0.25,5.6],[0.27,5.0],[0.29,4.4],[0.31,5.2],[0.33,4.6],[0.35,5.4],[0.37,4.9],[0.06,5.7],[0.1,6.1],[0.14,4.4],[0.18,6.4],[0.22,4.2],[0.26,6.2],[0.3,5.9],[0.34,5.0],[0.38,4.3],[0,5.3],[-0.04,5.6],[-0.08,5.1],[0.12,6.9],[0.2,7.0],[0.28,7.4],[0.36,6.3],
[-0.27,4.4],[-0.24,4.9],[-0.21,3.7],[-0.18,4.6],[-0.15,4.3],[-0.12,4.9],[-0.09,4.4],[-0.06,5.3],[-0.03,4.5],[0.01,5.7],[0.03,5.2],[0.05,4.4],[0.07,6.1],[0.085,4.7],[0.095,5.8],[0.105,5.0],[0.115,6.2],[0.125,4.5],[0.135,5.3],[0.145,6.4],[0.155,4.7],[0.165,5.5],[0.175,6.0],[0.185,5.2],[0.195,6.3],[0.205,4.8],[0.215,5.9],[0.225,5.1],[0.235,6.0],[0.245,4.6],[0.255,5.3],[0.265,6.3],[0.275,5.4],[0.285,4.8],[0.295,6.0],[0.305,5.0],[0.315,4.2],[0.325,5.8],[0.335,4.6],[0.345,5.3],[0.355,4.3],[0.365,5.6],[0.375,4.1],[0.385,6.2],[0.39,4.6],[0.05,7.2],[0.09,7.5],[0.13,7.8],[0.17,8.3],[0.21,7.6],[0.25,8.6],[0.29,8.0],[0.33,7.5],[0.37,6.6],[0.11,8.9],[0.19,9.0],[0.23,9.4],[-0.02,7.6],[0.15,9.7],[0.27,9.2]];
const frotPrePink = [[-0.456,0.70],[-0.427,0.90],[-0.362,1.34],[-0.342,0.68],[-0.331,1.56],[-0.318,2.71],[-0.311,1.81],[-0.301,1.71],[-0.296,1.28],[-0.291,0.96],[-0.286,0.64],[-0.281,0.43],[-0.276,0.36],[-0.271,0.53],[-0.278,1.28],[-0.283,1.56],[-0.274,1.92],[-0.268,2.13],[-0.261,1.49],[-0.256,1.71],[-0.251,1.07],[-0.246,1.49],[-0.244,1.92],[-0.241,2.13],[-0.281,2.56],[-0.278,2.41],[-0.284,2.13],[-0.256,3.73],[-0.251,3.41],[-0.238,2.45],[-0.228,2.99],[-0.22,3.09],[-0.234,3.16],[-0.215,1.92],[-0.208,4.52],[-0.205,1.49],[-0.2,0.32],[-0.195,1.28],[-0.187,2.13],[-0.185,3.84],[-0.187,2.39],[-0.175,2.94],[-0.165,3.31],[-0.163,2.6],[-0.16,1.17],[-0.153,0.85],[-0.147,2.6],[-0.145,2.13],[-0.14,0.81],[-0.137,0.21],[-0.135,0.17],[-0.13,0.47],[-0.127,3.63],[-0.123,1.96],[-0.12,0.81],[-0.115,1.49],[-0.104,0.11],[-0.102,3.52],[-0.098,2.99],[-0.084,1.11],[-0.078,3.41],[-0.061,0.75],[-0.059,1.71],[-0.054,1.71],[-0.042,1.49],[-0.038,3.84],[-0.029,0.96],[-0.024,2.92],[-0.017,2.03],[-0.014,1.81],[0.002,3.41],[0.007,0.75],[0.009,1.11],[0.015,2.03],[0.022,2.99],[0.027,3.03],[0.035,1.71],[0.039,3.09],[0.044,1.6],[0.055,4.48],[0.059,0.96],[0.062,1.17],[0.067,3.73],[0.082,1.81],[0.089,4.59],[0.105,2.92],[0.113,1.98],[0.128,2.99],[0.138,0.81],[0.143,2.09],[0.158,1.66],[0.18,1.71]];
const fitPreRotGrey = [[-0.274,5.18],[0.387,4.91]];
const fitPreRotPink = [[-0.456,1.22],[0.18,2.54]];

// G: pre-reversal F_rot + F_trans (1e-4 N)
const totPreGrey = [[-0.275,5.4],[-0.27,6.9],[-0.265,6.4],[-0.26,7.3],[-0.255,5.9],[-0.25,6.6],[-0.245,7.6],[-0.24,5.7],[-0.235,6.9],[-0.23,4.8],[-0.225,7.2],[-0.22,6.2],[-0.215,8.0],[-0.21,5.3],[-0.205,6.8],[-0.2,7.5],[-0.195,4.6],[-0.19,6.4],[-0.185,7.8],[-0.18,5.5],[-0.175,8.3],[-0.17,6.1],[-0.165,4.4],[-0.16,7.0],[-0.155,2.5],[-0.15,5.8],[-0.145,7.7],[-0.14,6.6],[-0.135,3.5],[-0.13,8.9],[-0.125,5.2],[-0.12,7.3],[-0.115,6.0],[-0.11,9.7],[-0.105,4.1],[-0.1,7.0],[-0.095,5.6],[-0.09,8.2],[-0.085,3.6],[-0.08,6.5],[-0.075,9.2],[-0.07,5.1],[-0.065,7.6],[-0.06,4.3],[-0.055,8.6],[-0.05,6.2],[-0.045,11.7],[-0.04,5.4],[-0.035,7.9],[-0.03,9.0],[-0.025,4.7],[-0.02,6.8],[-0.015,8.3],[-0.01,5.9],[-0.005,10.1],[0,7.3],[0.005,4.4],[0.01,9.4],[0.015,6.1],[0.02,10.7],[0.025,7.7],[0.03,5.0],[0.035,8.9],[0.04,6.5],[0.045,10.9],[0.05,7.2],[0.055,3.6],[0.06,8.5],[0.065,6.0],[0.07,9.8],[0.075,7.0],[0.08,4.9],[0.085,11.2],[0.09,8.0],[0.095,6.4],[0.1,12.3],[0.105,2.2],[0.11,9.1],[0.115,7.5],[0.12,5.5],[0.125,10.3],[0.13,8.4],[0.135,3.3],[0.14,6.9],[0.145,12.8],[0.15,7.8],[0.155,5.1],[0.16,9.6],[0.165,6.6],[0.17,11.5],[0.175,8.7],[0.18,4.2],[0.185,7.3],[0.19,13.2],[0.195,9.9],[0.2,1.1],[0.205,6.0],[0.21,8.1],[0.215,12.1],[0.22,2.0],[0.225,7.1],[0.23,9.3],[0.235,5.2],[0.24,13.3],[0.245,8.5],[0.25,3.9],[0.255,6.5],[0.26,10.2],[0.265,7.7],[0.27,4.6],[0.275,9.0],[0.28,2.5],[0.285,6.8],[0.29,11.0],[0.295,8.0],[0.3,5.6],[0.305,7.4],[0.31,3.2],[0.315,9.4],[0.32,6.3],[0.325,1.8],[0.33,8.6],[0.335,4.9],[0.34,7.1],[0.345,11.0],[0.35,2.6],[0.355,6.0],[0.36,0.4],[0.365,8.0],[0.37,5.3],[0.375,12.7],[0.38,6.7],[0.385,4.2],[0.39,6.0],[0.05,8.4],[0.07,7.8],[0.09,6.9],[0.11,8.2],[0.13,7.1],[0.15,8.9],[0.17,7.6],[0.19,8.3],[0.21,7.0],[0.23,8.0],[0.25,7.4],[0.27,8.4],[0.29,7.1],[0.31,7.9],[0.33,6.9],[0.35,7.6],[0.37,6.5],[0.06,6.6],[0.1,7.4],[0.14,9.8],[0.18,9.5],[0.22,6.6],[0.26,8.9],[0.3,9.6],[0.34,9.2],[0.38,7.7],[0,8.6],[-0.04,6.7],[-0.08,7.4],[0.12,6.3],[0.2,5.6],[0.28,6.1],[0.36,5.0],[0.04,9.8],[0.16,10.8],[0.24,10.5],
[-0.26,6.1],[-0.23,6.6],[-0.2,5.9],[-0.17,7.2],[-0.14,5.3],[-0.11,6.4],[-0.08,8.0],[-0.05,7.2],[-0.02,7.6],[0.01,6.8],[0.03,8.0],[0.05,6.2],[0.07,8.7],[0.08,6.8],[0.095,7.6],[0.105,8.8],[0.115,6.6],[0.125,7.9],[0.135,9.0],[0.145,7.1],[0.155,8.2],[0.165,9.3],[0.175,7.0],[0.185,8.6],[0.195,7.4],[0.205,9.1],[0.215,7.7],[0.225,8.5],[0.235,6.8],[0.245,9.4],[0.255,7.8],[0.265,8.3],[0.275,6.9],[0.285,8.8],[0.295,7.5],[0.305,8.4],[0.315,7.0],[0.325,7.8],[0.335,6.2],[0.345,7.4],[0.355,6.8],[0.365,6.0],[0.375,7.2],[0.385,5.5],[0.39,6.7],[0.12,10.6],[0.2,10.3],[0.28,10.0],[0.32,9.9],[0.26,11.4],[0.18,11.6],[0.1,10.0],[0.3,4.0],[0.34,3.7],[0.27,3.2],[0.36,3.0],[0.23,4.3],[0.33,5.4],[0.37,4.4],[0.06,5.0]];
const totPrePink = [[-0.453,-0.54],[-0.422,0.38],[-0.359,0.95],[-0.344,0.74],[-0.339,0.36],[-0.328,1.54],[-0.318,-0.49],[-0.309,-0.64],[-0.301,-0.54],[-0.313,2.87],[-0.301,1.97],[-0.296,1.72],[-0.291,1.33],[-0.286,1.08],[-0.281,0.95],[-0.276,0.82],[-0.271,0.18],[-0.266,0.44],[-0.281,0.05],[-0.286,-0.64],[-0.286,2.28],[-0.28,2.87],[-0.276,1.46],[-0.261,1.46],[-0.256,0.95],[-0.251,1.97],[-0.246,1.21],[-0.254,3.82],[-0.251,3.51],[-0.246,2.18],[-0.241,2.74],[-0.236,2.87],[-0.231,3.0],[-0.226,4.67],[-0.22,3.26],[-0.215,1.97],[-0.21,1.72],[-0.205,4.54],[-0.2,1.72],[-0.195,3.13],[-0.185,3.13],[-0.185,-0.54],[-0.18,3.9],[-0.165,4.15],[-0.165,-0.77],[-0.16,3.64],[-0.157,0.95],[-0.153,0.56],[-0.15,0.44],[-0.147,-0.85],[-0.14,0.18],[-0.14,-0.92],[-0.135,1.77],[-0.12,5.69],[-0.12,4.54],[-0.118,-0.97],[-0.115,-0.97],[-0.11,3.56],[-0.1,-0.54],[-0.096,1.21],[-0.076,4.92],[-0.078,-0.92],[-0.059,0.74],[-0.056,0.23],[-0.039,-0.92],[-0.034,5.87],[-0.032,0.95],[-0.022,4.36],[-0.014,-0.92],[-0.009,0.05],[0.009,1.21],[0.009,0.69],[0.012,-0.85],[0.032,3.9],[0.034,0.56],[0.047,4.85],[0.047,-0.03],[0.059,5.82],[0.06,-0.59],[0.06,-1.1],[0.065,0.36],[0.069,4.46],[0.087,1.72],[0.093,5.62],[0.109,2.28],[0.118,1.97],[0.133,4.46],[0.143,0.87],[0.146,4.79],[0.146,1.72],[0.163,0.85],[0.183,0.95]];
const fitPreTotGrey = [[-0.271,8.05],[0.39,6.15]];
const fitPreTotPink = [[-0.453,1.08],[0.183,2.18]];

// ---------------- STYLE ----------------
const SERIF = "'Liberation Serif','Times New Roman',serif";
const SANS = "'Liberation Sans',Arial,sans-serif";
const FS = 23.5;
const INK = '#231f20';
const PINK = '#e8268c';
const DARK = '#3a3a3a';
const GREY = '#bdbfc2';
const SHADE = '#e1e2e4';
const BOX = '#bdbec1';
const RED = '#ee2a2a';

function merge(a, b) {
  const o = Object.assign({}, a);
  for (const k in b) {
    const v = b[k];
    if (v && typeof v === 'object' && !Array.isArray(v) && a[k] && typeof a[k] === 'object' && !Array.isArray(a[k])) o[k] = merge(a[k], v);
    else o[k] = v;
  }
  return o;
}
const near = (a, b) => Math.abs(a - b) < 1e-6;
const nform = (v) => { const s = String(+(v / 1e4).toPrecision(6)); return s.replace('-', '\u2013'); };

const baseAxis = {
  type: 'value', z: 6, splitLine: { show: false }, nameMoveOverlap: false,
  axisLine: { show: true, onZero: false, lineStyle: { color: INK, width: 2.2, cap: 'square' } },
  axisTick: { show: true, inside: true, length: 7, lineStyle: { color: INK, width: 2 } },
  axisLabel: { show: true, fontFamily: SERIF, fontSize: FS, color: INK, margin: 14 },
  nameTextStyle: { fontFamily: SERIF, fontSize: FS, color: INK }
};
const hidden = (min, max, extra) => Object.assign({ type: 'value', show: false, min, max }, extra || {});
const richStyles = {
  t: { fontFamily: SERIF, fontSize: FS, color: INK, lineHeight: 30, verticalAlign: 'middle' },
  i: { fontFamily: SERIF, fontSize: FS, color: INK, fontStyle: 'italic', lineHeight: 30, verticalAlign: 'middle' },
  sub: { fontFamily: SERIF, fontSize: 16, color: INK, lineHeight: 16, verticalAlign: 'bottom' },
  sup: { fontFamily: SERIF, fontSize: 16, color: INK, lineHeight: 16, verticalAlign: 'top' }
};

const grids = [], xAxes = [], yAxes = [], series = [];
function addGrid(g, xa, ya) {
  const gi = grids.length;
  grids.push(Object.assign({ containLabel: false }, g));
  xAxes.push(Object.assign({}, xa, { gridIndex: gi }));
  yAxes.push(Object.assign({}, ya, { gridIndex: gi }));
  return gi;
}
const zeroLine = { silent: true, symbol: ['none', 'none'], label: { show: false }, lineStyle: { color: INK, type: [1.6, 10], width: 1.6 }, data: [{ yAxis: 0 }] };

function curves(gi, arr, color, z, withZero) {
  arr.forEach((c, k) => {
    const s = {
      type: 'line', xAxisIndex: gi, yAxisIndex: gi, silent: true, z,
      data: timeGrid.map((t, i) => [t, c[i]]),
      showSymbol: false, symbol: 'none', smooth: 0.35,
      lineStyle: { color, width: 1.2 }
    };
    if (withZero && k === 0) s.markLine = zeroLine;
    series.push(s);
  });
}
function scatter(gi, data, color, z) {
  series.push({ type: 'scatter', xAxisIndex: gi, yAxisIndex: gi, data, symbolSize: 7, itemStyle: { color }, silent: true, z });
}
function fit(gi, data, color) {
  series.push({ type: 'line', xAxisIndex: gi, yAxisIndex: gi, data, symbol: 'none', silent: true, z: 7, lineStyle: { color, width: 1.6 } });
}
function zeroOnly(gi) {
  series.push({ type: 'line', xAxisIndex: gi, yAxisIndex: gi, data: [], silent: true, z: 2, markLine: zeroLine });
}
function windows(gi, shade, box, boxTop) {
  series.push({
    type: 'line', xAxisIndex: gi, yAxisIndex: gi, data: [], silent: true, z: 1,
    markArea: { silent: true, data: [
      [{ xAxis: shade[0], yAxis: 0, itemStyle: { color: SHADE } }, { xAxis: shade[1], yAxis: 1 }],
      [{ xAxis: box[0], yAxis: 0, itemStyle: { color: 'rgba(0,0,0,0)', borderColor: BOX, borderWidth: 2 } }, { xAxis: box[1], yAxis: boxTop }]
    ] }
  });
}

// ---- background window grids (span panels A and B)
let g;
g = addGrid({ left: 146, top: 69, width: 298, height: 523 }, hidden(0, 1), hidden(0, 1));
windows(g, postRevWindow, downBoxWindow, 0.992);
g = addGrid({ left: 548, top: 67, width: 297, height: 525 }, hidden(0, 1), hidden(0, 1));
windows(g, preRevWindow, upBoxWindow, 0.996);

// ---- A left
g = addGrid({ left: 146, top: 69, width: 298, height: 221 }, hidden(0, 1),
  merge(baseAxis, { min: -4000, max: 4000, interval: 1000, offset: 22,
    axisLabel: { formatter: v => near(v, 4000) ? '4000' : near(v, 0) ? '0' : near(v, -4000) ? '\u20134000' : '' },
    name: '{t|\u03c9  (rad s}{sup|\u20131}{t|)}', nameLocation: 'middle', nameGap: 44,
    nameTextStyle: { rich: richStyles } }));
curves(g, omegaDownBlack, DARK, 3, true);
curves(g, omegaDownPink, PINK, 4, false);

// ---- A right
g = addGrid({ left: 548, top: 71, width: 297, height: 234 }, hidden(0, 1),
  merge(baseAxis, { min: -4000, max: 4000, interval: 1000, offset: 16, axisLabel: { show: false } }));
curves(g, omegaUpBlack, DARK, 3, true);
curves(g, omegaUpPink, PINK, 4, false);

// ---- B left
const timeAxis = (off) => merge(baseAxis, { min: 0, max: 1, interval: 0.1, offset: off,
  axisLabel: { margin: 7, formatter: v => near(v, 0) ? '0' : near(v, 1) ? '1' : '' },
  name: 'Normalized time', nameLocation: 'middle', nameGap: 26 });
g = addGrid({ left: 146, top: 342, width: 298, height: 235 }, timeAxis(15),
  merge(baseAxis, { min: -12, max: 10, interval: 2, offset: 22,
    axisLabel: { margin: 12, formatter: v => (near(v, 10) || near(v, 0) || near(v, -12)) ? nform(v) : '' },
    name: '{i|F}{sub|rot}{t| (N)}', nameLocation: 'middle', nameGap: 44,
    nameTextStyle: { rich: richStyles } }));
curves(g, frotDownBlack, DARK, 3, true);
curves(g, frotDownPink, PINK, 4, false);

// ---- B right
g = addGrid({ left: 548, top: 342, width: 297, height: 235 }, timeAxis(15),
  merge(baseAxis, { min: -12, max: 10, interval: 2, offset: 16, axisLabel: { show: false } }));
curves(g, frotUpBlack, DARK, 3, true);
curves(g, frotUpPink, PINK, 4, false);

// ---- deviation axes
const devAxis = (off) => merge(baseAxis, { min: -0.5, max: 0.4, interval: 0.1, offset: off,
  axisLabel: { margin: 10, formatter: v => near(v, -0.5) ? '\u20130.5' : near(v, 0) ? '0' : near(v, 0.4) ? '0.4' : '' },
  name: 'Downstroke deviation (rad)', nameLocation: 'middle', nameGap: 46 });

// ---- C
g = addGrid({ left: 127, top: 695, width: 297, height: 234 }, hidden(-0.5, 0.4),
  merge(baseAxis, { min: 0, max: 0.5, interval: 0.1, offset: 10,
    axisLabel: { formatter: v => near(v, 0.5) ? '0.5' : near(v, 0) ? '0' : '' },
    name: 'Peak delay (T)', nameLocation: 'middle', nameGap: 50 }));
scatter(g, delayGrey, GREY, 3); scatter(g, delayPink, PINK, 4); zeroOnly(g);

// ---- D
g = addGrid({ left: 127, top: 988, width: 297, height: 234 }, hidden(-0.5, 0.4),
  merge(baseAxis, { min: 0, max: 18, inverse: true, offset: 10,
    axisTick: { customValues: [0, 5, 10, 15, 18] },
    axisLabel: { customValues: [0, 15, 18], formatter: v => nform(v) },
    name: '{i|F}{sub|rot}{t| (N)}', nameLocation: 'middle', nameGap: 48,
    nameTextStyle: { rich: richStyles } }));
scatter(g, frotPostGrey, GREY, 3); scatter(g, frotPostPink, PINK, 4); zeroOnly(g);
fit(g, fitPostRotGrey, '#222'); fit(g, fitPostRotPink, RED);

// ---- E
g = addGrid({ left: 127, top: 1277, width: 297, height: 234 }, devAxis(12),
  merge(baseAxis, { min: 0, max: 18, inverse: true, offset: 10,
    axisTick: { customValues: [0, 18] },
    axisLabel: { customValues: [0, 18], formatter: v => nform(v) },
    name: '{i|F}{sub|rot}{t| + }{i|F}{sub|trans}{t| (N)}', nameLocation: 'middle', nameGap: 48,
    nameTextStyle: { rich: richStyles } }));
scatter(g, totPostGrey, GREY, 3); scatter(g, totPostPink, PINK, 4); zeroOnly(g);
fit(g, fitPostTotGrey, '#222'); fit(g, fitPostTotPink, RED);

// ---- F
g = addGrid({ left: 586, top: 992, width: 297, height: 235 }, hidden(-0.5, 0.4),
  merge(baseAxis, { min: 0, max: 15, interval: 5, offset: 13,
    axisLabel: { formatter: v => (near(v, 15) || near(v, 0)) ? nform(v) : '' } }));
scatter(g, frotPreGrey, GREY, 3); scatter(g, frotPrePink, PINK, 4); zeroOnly(g);
fit(g, fitPreRotGrey, '#222'); fit(g, fitPreRotPink, RED);

// ---- G
g = addGrid({ left: 586, top: 1278, width: 297, height: 234 }, devAxis(12),
  merge(baseAxis, { min: -3, max: 15, offset: 13,
    axisTick: { customValues: [-3, 15] },
    axisLabel: { customValues: [-3, 0, 15], formatter: v => nform(v) } }));
scatter(g, totPreGrey, GREY, 3); scatter(g, totPrePink, PINK, 4); zeroOnly(g);
fit(g, fitPreTotGrey, '#222'); fit(g, fitPreTotPink, RED);

// ---- text annotations
const letters = [['A', 18, 17], ['B', 18, 324], ['C', 20, 670], ['D', 20, 958], ['E', 19, 1263], ['F', 472, 958], ['G', 475, 1263]];
const heads = [['Downstrokes', 319, 20], ['Dorsal flip', 181, 43], ['Post-rev', 205, 78], ['Upstrokes', 695, 20], ['Dorsal flip', 847, 43], ['Pre-rev', 809, 75], ['Post-reversal peak', 287, 690], ['Pre-reversal peak', 740, 962]];
const graphic = [];
letters.forEach(([t, x, y]) => graphic.push({ type: 'text', x, y, z: 10, silent: true,
  style: { text: t, fontFamily: SANS, fontSize: 28, fill: INK, align: 'center', verticalAlign: 'middle' } }));
heads.forEach(([t, x, y]) => graphic.push({ type: 'text', x, y, z: 10, silent: true,
  style: { text: t, fontFamily: SERIF, fontSize: FS, fill: INK, align: 'center', verticalAlign: 'middle' } }));

const chart = echarts.init(document.getElementById('c'), null, { renderer: 'canvas', width: 898, height: 1593 });
chart.setOption({ animation: false, backgroundColor: '#ffffff', grid: grids, xAxis: xAxes, yAxis: yAxes, series, graphic });
</script></body></html>
